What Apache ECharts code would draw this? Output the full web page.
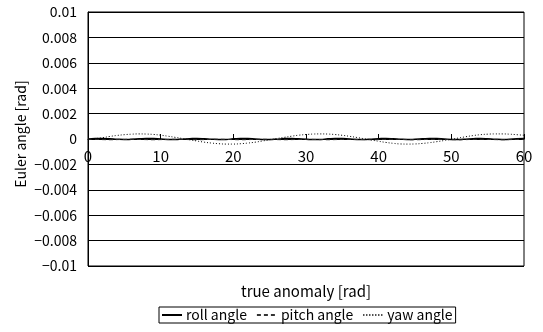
<!DOCTYPE html>
<html><head><meta charset="utf-8">
<script src="https://cdn.jsdelivr.net/npm/echarts@6/dist/echarts.min.js"></script>
<style>html,body{margin:0;padding:0;background:#fff}#c{width:543px;height:332px}</style>
</head><body><div id="c"></div>
<script>
const anomaly = [0,1,2,3,4,5,6,7,8,9,10,11,12,13,14,15,16,17,18,19,20,21,22,23,24,25,26,27,28,29,30,31,32,33,34,35,36,37,38,39,40,41,42,43,44,45,46,47,48,49,50,51,52,53,54,55,56,57,58,59,60];
const rollAngle = [0,0.00003,0.00004,0.00002,-0.00002,-0.00004,-0.00002,0.00001,0.00004,0.00003,0,-0.00003,-0.00004,-0.00001,0.00002,0.00004,0.00002,-0.00002,-0.00004,-0.00003,0.00001,0.00004,0.00003,0,-0.00003,-0.00004,-0.00001,0.00003,0.00004,0.00001,-0.00002,-0.00004,-0.00003,0.00001,0.00004,0.00003,0,-0.00003,-0.00004,-0.00001,0.00002,0.00004,0.00002,-0.00002,-0.00004,-0.00002,0.00001,0.00004,0.00003,0,-0.00003,-0.00004,-0.00001,0.00002,0.00004,0.00002,-0.00002,-0.00004,-0.00002,0.00001,0.00003];
const pitchAngle = [-0.00002,-0.00003,-0.00005,-0.00006,-0.00005,-0.00003,-0.00002,-0.00003,-0.00005,-0.00006,-0.00005,-0.00003,-0.00002,-0.00003,-0.00005,-0.00006,-0.00005,-0.00003,-0.00002,-0.00003,-0.00005,-0.00006,-0.00005,-0.00003,-0.00002,-0.00003,-0.00005,-0.00006,-0.00005,-0.00003,-0.00002,-0.00003,-0.00005,-0.00006,-0.00005,-0.00003,-0.00002,-0.00003,-0.00005,-0.00006,-0.00005,-0.00003,-0.00002,-0.00003,-0.00005,-0.00006,-0.00005,-0.00003,-0.00002,-0.00003,-0.00005,-0.00006,-0.00005,-0.00003,-0.00002,-0.00003,-0.00005,-0.00006,-0.00005,-0.00003,-0.00002];
const yawAngle = [-0.00005,0.00003,0.0001,0.0002,0.00028,0.00034,0.00038,0.0004,0.00039,0.00036,0.0003,0.00022,0.00013,0.00004,-0.00006,-0.00016,-0.00025,-0.00032,-0.00037,-0.0004,-0.0004,-0.00037,-0.00032,-0.00025,-0.00016,-0.00006,0.00004,0.00013,0.00022,0.0003,0.00035,0.00039,0.0004,0.00039,0.00035,0.00029,0.00021,0.00012,0.00002,-0.00008,-0.00018,-0.00027,-0.00034,-0.00039,-0.0004,-0.00039,-0.00035,-0.00029,-0.00021,-0.00012,-0.00002,0.00008,0.00018,0.00027,0.00034,0.00038,0.0004,0.0004,0.00038,0.00034,0.00029];
const seriesNames = ['roll angle','pitch angle','yaw angle'];
const yTickLabels = {'0.01':'0.01','0.008':'0.008','0.006':'0.006','0.004':'0.004','0.002':'0.002','0':'0','-0.002':'\u22120.002','-0.004':'\u22120.004','-0.006':'\u22120.006','-0.008':'\u22120.008','-0.01':'\u22120.01'};
const xAxisTitle = 'true anomaly [rad]';
const yAxisTitle = 'Euler angle [rad]';

const FONT = '"Noto Sans CJK JP", "Liberation Sans", sans-serif';
const pair = (ys) => anomaly.map((x,i)=>[x, ys[i]]);
const chart = echarts.init(document.getElementById('c'), null, {renderer:'canvas'});
chart.setOption({
  animation:false,
  textStyle:{fontFamily:FONT, color:'#000'},
  grid:{left:88, right:19, top:12, bottom:66, show:true, borderColor:'#000', borderWidth:1, backgroundColor:'transparent'},
  xAxis:{type:'value', min:0, max:60, interval:10, position:'bottom', offset:-127,
    axisLine:{onZero:false, lineStyle:{color:'#000', width:1}},
    axisTick:{inside:true, length:5, lineStyle:{color:'#000'}},
    axisLabel:{color:'#000', fontSize:15, fontFamily:FONT, margin:10, lineHeight:15},
    splitLine:{show:false}},
  yAxis:{type:'value', min:-0.01, max:0.01, interval:0.002,
    axisLine:{show:true, lineStyle:{color:'#000', width:1}},
    axisTick:{show:false},
    axisLabel:{color:'#000', fontSize:14, fontFamily:FONT, margin:11,
      formatter:(v)=>{const k=String(Math.round(v*1000)/1000); return yTickLabels[k]!==undefined?yTickLabels[k]:k;}},
    splitLine:{show:true, lineStyle:{color:'#000', width:1}}},
  legend:{top:307, left:159, data:seriesNames,
    itemWidth:20, itemHeight:8, itemGap:9,
    itemStyle:{opacity:0},
    textStyle:{color:'#000', fontSize:14, fontFamily:FONT, padding:[0,0,0,-1], lineHeight:14},
    borderColor:'#000', borderWidth:1, padding:[1,3,1,2]},
  graphic:[
    {type:'text', x:306, y:291, style:{text:xAxisTitle, fill:'#000', font:'15px '+FONT, align:'center', verticalAlign:'middle'}},
    {type:'text', x:21, y:134, rotation:Math.PI/2, style:{text:yAxisTitle, fill:'#000', font:'14px '+FONT, align:'center', verticalAlign:'middle'}}
  ],
  series:[
    {name:seriesNames[0], type:'line', data:pair(rollAngle), symbol:'none', smooth:true, lineStyle:{color:'#000', width:1.5, type:'solid'}, itemStyle:{color:'#000'}},
    {name:seriesNames[1], type:'line', data:pair(pitchAngle), symbol:'none', smooth:true, lineStyle:{color:'#333', width:1, type:[4,3]}, itemStyle:{color:'#333'}},
    {name:seriesNames[2], type:'line', data:pair(yawAngle), symbol:'none', smooth:true, lineStyle:{color:'#000', width:1, type:[1,2]}, itemStyle:{color:'#000'}}
  ]
});
</script></body></html>
